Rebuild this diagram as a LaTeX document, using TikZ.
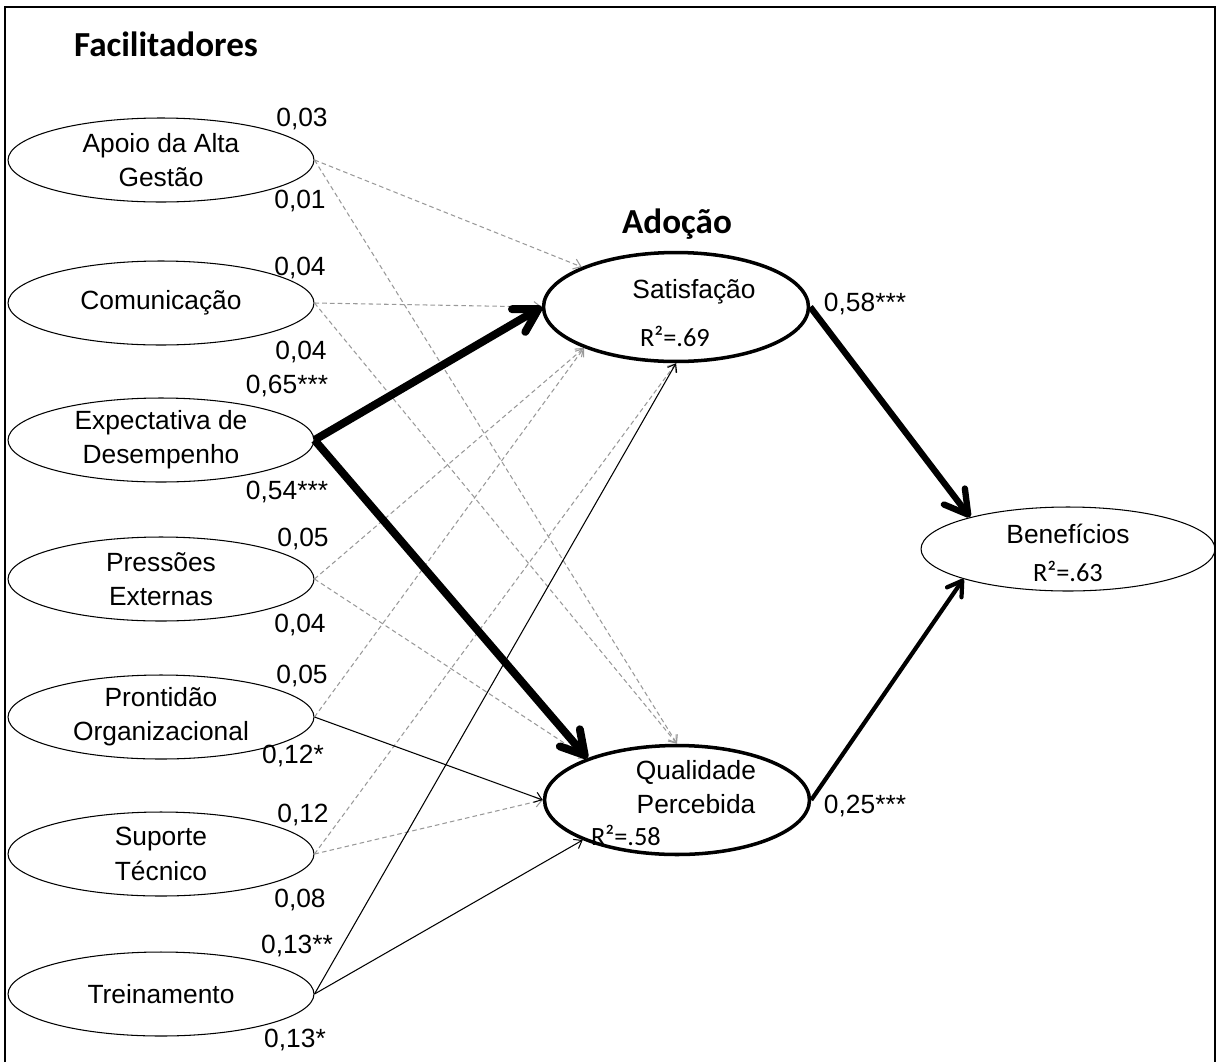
\documentclass[tikz,border=0pt]{standalone}
\usepackage{fontspec}
\setmainfont{Liberation Sans}
\newfontfamily\calibri{Carlito}
\usepackage{tikz}
\usetikzlibrary{arrows.meta}
\usetikzlibrary{positioning}
\usetikzlibrary{shapes.geometric}

\tikzset{
	facilitador/.style={draw,ellipse,line width=0.6pt,minimum width=6.12cm,minimum height=1.68cm,inner xsep=0pt,inner ysep=-2pt,align=center,font=\fontsize{15}{19.5}\selectfont},
	adocao/.style={draw,ellipse,line width=2pt,minimum width=5.3cm,minimum height=2.18cm,inner sep=0pt},
	resultado/.style={draw,ellipse,line width=0.6pt,minimum width=5.88cm,minimum height=1.68cm,inner sep=0pt},
	rotulo/.style={inner sep=0pt,align=center,font=\fontsize{15}{19}\selectfont},
	rquad/.style={inner sep=0pt,font=\calibri\fontsize{15}{18}\selectfont},
	coef/.style={inner sep=0pt,font=\fontsize{15}{18}\selectfont},
	titulo/.style={inner sep=0pt,font=\calibri\bfseries\fontsize{20}{24}\selectfont},
	naosig/.style={draw=black!40,line width=0.6pt,dash pattern=on 2.6pt off 1.8pt,-{Straight Barb[length=4pt,width=6pt]}},
	sig/.style={draw=black,line width=0.6pt,-{Straight Barb[length=4pt,width=6pt]}},
	forte/.style={draw=black,line width=4.5pt,-{Straight Barb[length=13pt,width=15pt,round]}},
	medio/.style={draw=black,line width=3.6pt,-{Straight Barb[length=13pt,width=15pt,round]}},
	fraco/.style={draw=black,line width=2.4pt,-{Straight Barb[length=8pt,width=10pt,round]}}
}

\begin{document}
\begin{tikzpicture}[x=0.02cm,y=-0.02cm]
		\useasboundingbox (0,0) rectangle (1220,1062);
		\draw [line width=1.1pt] (5,1062) |- (1215,7) -- (1215,1062);

		% facilitadores
		\node [titulo] (facil) at (166,44) {Facilitadores};
		\node [facilitador] (apoio) at (161,160) {Apoio da Alta\\Gestão};
		\node [facilitador] (comun) at (161,303) {Comunicação};
		\node [facilitador] (expec) at (161,440) {Expectativa de\\Desempenho};
		\node [facilitador] (press) at (161,579) {Pressões\\Externas};
		\node [facilitador] (pront) at (161,717) {Prontidão\\Organizacional};
		\node [facilitador] (suport) at (161,854) {Suporte\\Técnico};
		\node [facilitador] (trein) at (161,994) {Treinamento};

		% adocao
		\node [titulo] (adoc) at (677,224) {Adoção};
		\node [adocao] (sat) at (676,307) {};
		\node [rotulo] (sat-nome) at (694,292) {Satisfação};
		\node [rquad] (sat-r2) at (675,336) {R²=.69};
		\node [adocao] (qual) at (677,800) {};
		\node [rotulo] (qual-nome) at (696,787) {Qualidade\\Percebida};
		\node [rquad] (qual-r2) at (626,835) {R²=.58};

		% resultado
		\node [resultado] (benef) at (1068,549) {};
		\node [rotulo] (benef-nome) at (1068,534) {Benefícios};
		\node [rquad] (benef-r2) at (1068,571) {R²=.63};

		% caminhos
		\draw [naosig] (apoio.east) -- (sat.157);
		\draw [naosig] (apoio.east) -- (qual.north);
		\draw [naosig] (comun.east) -- (sat.west);
		\draw [naosig] (comun.east) -- (qual.north);
		\draw [naosig] (press.east) -- (sat.204);
		\draw [naosig] (press.east) -- (qual.155);
		\draw [naosig] (pront.east) -- (sat.204);
		\draw [naosig] (suport.east) -- (sat.south);
		\draw [naosig] (suport.east) -- (qual.west);
		\draw [sig] (pront.east) -- (qual.west);
		\draw [sig] (trein.east) -- (sat.south);
		\draw [sig] (trein.east) -- (qual.203);
		\draw [forte] (expec.east) -- (sat.west);
		\draw [forte] (expec.east) -- (qual.155);
		\draw [medio] (sat.east) -- (benef.162);
		\draw [fraco] (qual.east) -- (benef.196);

		% coeficientes
		\node [coef] (c-apoio-s) at (302,119) {0,03};
		\node [coef] (c-apoio-q) at (300,201) {0,01};
		\node [coef] (c-comun-s) at (300,268) {0,04};
		\node [coef] (c-comun-q) at (301,352) {0,04};
		\node [coef] (c-expec-s) at (287,386) {0,65***};
		\node [coef] (c-expec-q) at (287,492) {0,54***};
		\node [coef] (c-press-s) at (303,539) {0,05};
		\node [coef] (c-press-q) at (300,625) {0,04};
		\node [coef] (c-pront-s) at (302,676) {0,05};
		\node [coef] (c-pront-q) at (293,756) {0,12*};
		\node [coef] (c-suport-s) at (303,815) {0,12};
		\node [coef] (c-suport-q) at (300,900) {0,08};
		\node [coef] (c-trein-s) at (297,946) {0,13**};
		\node [coef] (c-trein-q) at (295,1040) {0,13*};
		\node [coef] (c-sat) at (865,304) {0,58***};
		\node [coef] (c-qual) at (865,806) {0,25***};
	\end{tikzpicture}
\end{document}
